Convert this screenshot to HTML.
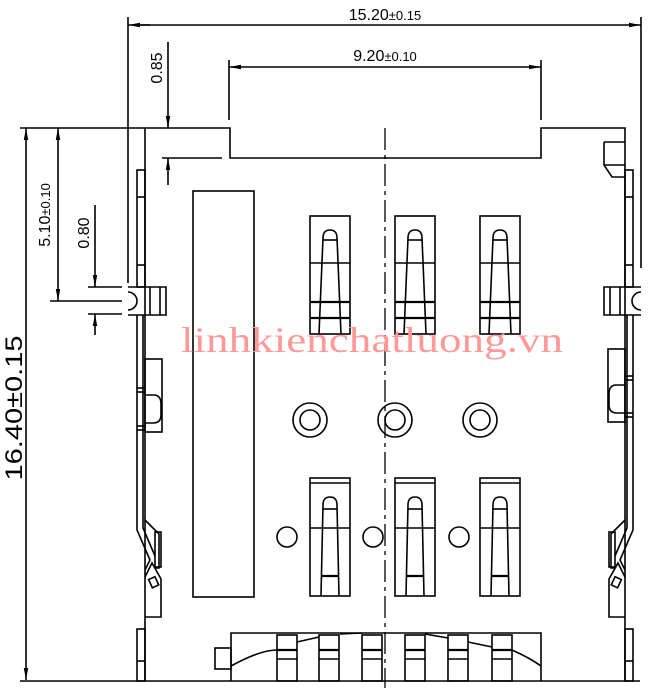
<!DOCTYPE html>
<html><head><meta charset="utf-8"><style>
html,body{margin:0;padding:0;background:#fff;}
svg{display:block}
</style></head><body>
<svg width="650" height="688" viewBox="0 0 650 688" xmlns="http://www.w3.org/2000/svg">
<defs>
<marker id="a" markerWidth="12" markerHeight="6" refX="12" refY="3" orient="auto" markerUnits="userSpaceOnUse"><path d="M0,0.8 L12,3 L0,5.2 Z" fill="#000"/></marker>
<g id="tc" stroke="#000" stroke-width="1.6" fill="none">
<rect x="0" y="0" width="40" height="118"/>
<line x1="0" y1="47" x2="40" y2="47"/>
<path d="M9,118 L13,22 Q13,14 20,14 Q27,14 27,22 L31,118"/>
<line x1="13" y1="24" x2="27" y2="24"/>
<line x1="0" y1="86" x2="40" y2="86" stroke-width="2.2"/>
<line x1="0" y1="102" x2="40" y2="102" stroke-width="2.2"/>
</g>
</defs>
<g stroke="#000" stroke-width="1.6" fill="none">
<!-- top dims -->
<line x1="128" y1="17" x2="128" y2="283"/>
<line x1="641" y1="17" x2="641" y2="268"/>
<line x1="150" y1="25" x2="128" y2="25" marker-end="url(#a)"/>
<line x1="140" y1="25" x2="641" y2="25" marker-end="url(#a)"/>
<line x1="229" y1="60" x2="229" y2="120"/>
<line x1="541" y1="60" x2="541" y2="120"/>
<line x1="300" y1="67" x2="229" y2="67" marker-end="url(#a)"/>
<line x1="300" y1="67" x2="541" y2="67" marker-end="url(#a)"/>
<!-- 0.85 -->
<line x1="168" y1="42" x2="168" y2="128" marker-end="url(#a)"/>
<line x1="168" y1="185" x2="168" y2="158" marker-end="url(#a)"/>
<line x1="162" y1="158" x2="222" y2="158"/>
<!-- left vertical dims -->
<line x1="20" y1="128" x2="228" y2="128"/>
<line x1="26" y1="300" x2="26" y2="128" marker-end="url(#a)"/>
<line x1="26" y1="300" x2="26" y2="680" marker-end="url(#a)"/>
<line x1="58" y1="200" x2="58" y2="128" marker-end="url(#a)"/>
<line x1="58" y1="200" x2="58" y2="301" marker-end="url(#a)"/>
<line x1="50" y1="301" x2="122" y2="301"/>
<line x1="95" y1="205" x2="95" y2="287" marker-end="url(#a)"/>
<line x1="95" y1="335" x2="95" y2="314" marker-end="url(#a)"/>
<line x1="88" y1="287" x2="122" y2="287"/>
<line x1="88" y1="314" x2="122" y2="314"/>
<line x1="20" y1="681" x2="640" y2="681"/>
<!-- body top -->
<polyline points="228,128 230,128 230,158 541,158 541,128 625,128 625,681"/>
<line x1="145" y1="128" x2="145" y2="681"/>
<!-- center line -->
<line x1="385" y1="128" x2="385" y2="688" stroke-dasharray="22,5,4,5" stroke-width="1.3"/>
<!-- left rail -->
<rect x="137" y="170" width="8" height="117"/>
<line x1="137" y1="197" x2="145" y2="197"/><line x1="137" y1="265" x2="145" y2="265"/>
<path d="M128,287 H166 V315 H128 M128,292 A9,9 0 0 1 128,310"/>
<line x1="150" y1="287" x2="150" y2="315"/><line x1="160" y1="287" x2="160" y2="315"/>
<path d="M137,315 V530 L150,560 L145,570 M143,315 V528 L155,556"/>
<line x1="137" y1="388" x2="145" y2="388"/><line x1="137" y1="392" x2="145" y2="392"/>
<line x1="137" y1="426" x2="145" y2="426"/><line x1="137" y1="430" x2="145" y2="430"/>
<rect x="145" y="359" width="17" height="73"/>
<path d="M145,395 H155 Q161,396 161,404 V415 Q161,423 153,423 H145"/>
<path d="M145,520 L159,534 V568 H155 M145,577 L152,563 L161,579 V617 H145"/>
<rect x="155" y="532" width="6" height="35"/>
<rect x="150" y="578" width="7" height="9" transform="rotate(-25 153 582)"/>
<rect x="137" y="629" width="8" height="52"/><line x1="137" y1="661" x2="145" y2="661"/>
<!-- right rail -->
<path d="M604,142 H625 M604,142 V165 L612,177 H625 M604,165 H625"/>
<rect x="625" y="170" width="8" height="117"/>
<line x1="625" y1="197" x2="633" y2="197"/><line x1="625" y1="265" x2="633" y2="265"/>
<path d="M641,287 H604 V315 H641 M641,292 A9,9 0 0 0 641,310"/>
<line x1="610" y1="287" x2="610" y2="315"/><line x1="620" y1="287" x2="620" y2="315"/>
<path d="M633,315 V530 L620,560 L625,570 M627,315 V528 L615,556"/>
<line x1="625" y1="376" x2="633" y2="376"/><line x1="625" y1="380" x2="633" y2="380"/>
<line x1="625" y1="413" x2="633" y2="413"/><line x1="625" y1="417" x2="633" y2="417"/>
<rect x="608" y="349" width="17" height="73"/>
<path d="M625,385 H615 Q609,386 609,394 V405 Q609,413 617,413 H625"/>
<path d="M625,520 L611,534 V568 H615 M625,577 L618,563 L609,579 V617 H625"/>
<rect x="609" y="532" width="6" height="35"/>
<rect x="613" y="578" width="7" height="9" transform="rotate(25 617 582)"/>
<rect x="625" y="629" width="8" height="52"/><line x1="625" y1="661" x2="633" y2="661"/>
<!-- big rect -->
<rect x="193" y="191" width="61" height="406"/>
<!-- circles -->
<circle cx="310" cy="420" r="17"/><circle cx="310" cy="420" r="10"/>
<circle cx="395" cy="420" r="17"/><circle cx="395" cy="420" r="10"/>
<circle cx="480" cy="420" r="17"/><circle cx="480" cy="420" r="10"/>
<circle cx="287" cy="537" r="10"/><circle cx="373" cy="537" r="10"/><circle cx="459" cy="537" r="10"/>
<!-- bottom terminal -->
<path d="M231,681 V633 H541 V681"/>
<rect x="215" y="648" width="16" height="21"/>
<path d="M231,666 Q260,650 277,650 M297,642 L319,637 M340,634 L362,633 M425,634 L448,638 M468,642 L492,647 M512,650 Q530,658 541,666"/>
</g>
<use href="#tc" x="310" y="216"/><use href="#tc" x="395" y="216"/><use href="#tc" x="480" y="216"/>
<g id="bc" stroke="#000" stroke-width="1.6" fill="none">
<rect x="310" y="478" width="40" height="118"/>
<line x1="310" y1="483" x2="350" y2="483"/>
<line x1="310" y1="528" x2="350" y2="528"/>
<path d="M321,596 L323,505 Q323,497 330,497 Q337,497 337,505 L339,596"/>
<line x1="323" y1="509" x2="337" y2="509"/>
<line x1="321" y1="576" x2="339" y2="576" stroke-width="2.2"/>
</g>
<use href="#bc" x="85" y="0"/><use href="#bc" x="170" y="0"/>
<g stroke="#000" stroke-width="1.6" fill="none" id="pads">
<rect x="277" y="635" width="20" height="46"/><line x1="277" y1="650" x2="297" y2="650" stroke-width="2.2"/><line x1="277" y1="659" x2="297" y2="659"/>
</g>
<use href="#pads" x="42"/><use href="#pads" x="85"/><use href="#pads" x="128"/><use href="#pads" x="171"/><use href="#pads" x="215"/>
<g font-family="'Liberation Sans',Arial,sans-serif" fill="#000">
<text x="385" y="20" text-anchor="middle" font-size="16">15.20<tspan font-size="13">±0.15</tspan></text>
<text x="385" y="61" text-anchor="middle" font-size="16">9.20<tspan font-size="13">±0.10</tspan></text>
<text transform="translate(162,68) rotate(-90)" text-anchor="middle" font-size="16">0.85</text>
<text transform="translate(50,215) rotate(-90)" text-anchor="middle" font-size="16">5.10<tspan font-size="13">±0.10</tspan></text>
<text transform="translate(89,233) rotate(-90)" text-anchor="middle" font-size="16">0.80</text>
<text transform="translate(22,408) rotate(-90)" text-anchor="middle" font-size="24" textLength="145" lengthAdjust="spacingAndGlyphs">16.40±0.15</text>
</g>
<text x="181" y="352" font-family="'Liberation Serif',serif" font-size="36" fill="#f99" textLength="382" lengthAdjust="spacingAndGlyphs">linhkienchatluong.vn</text>
</svg>
</body></html>
